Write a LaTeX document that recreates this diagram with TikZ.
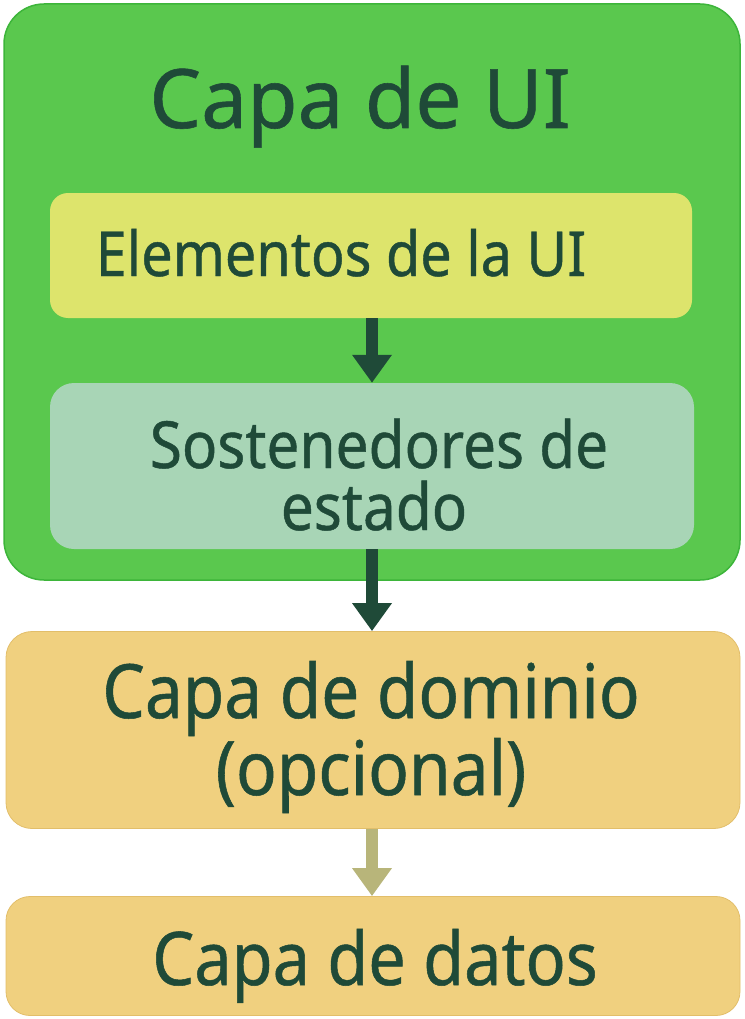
\documentclass[tikz,border=0pt]{standalone}
\usepackage{fontspec}
\setmainfont[FakeBold=0.7]{Noto Sans}
\newfontfamily\narrowsans[FakeStretch=0.9, FakeBold=0.7]{Noto Sans}
\usetikzlibrary{arrows.meta}
\definecolor{uigreen}{HTML}{5AC84E}
\definecolor{uigreenedge}{HTML}{3DB53A}
\definecolor{elemyellow}{HTML}{DDE46C}
\definecolor{stateblue}{HTML}{A8D5B6}
\definecolor{layerorange}{HTML}{F0D07F}
\definecolor{layeredge}{HTML}{E2BE6A}
\definecolor{inkgreen}{HTML}{1F4A38}
\definecolor{olivearrow}{HTML}{B8B57A}
\tikzset{
  layerbox/.style={rounded corners=#1, inner sep=0pt},
  labeltext/.style={text=inkgreen, anchor=base, inner sep=0pt},
  flowarrow/.style={draw=#1, line width=12pt, -{Triangle[width=38pt,length=28pt]}, shorten >=0pt},
}
\begin{document}
\begin{tikzpicture}[x=1pt,y=-1pt]
\useasboundingbox (0,0) rectangle (744,1019);
% boxes
\path[fill=uigreen, draw=uigreenedge, line width=1.5pt, rounded corners=40pt] (4,4) rectangle (740,580);
\node[layerbox=18pt, fill=elemyellow, minimum width=642pt, minimum height=125pt] (elem) at (371,255.5) {};
\node[layerbox=24pt, fill=stateblue, minimum width=644pt, minimum height=166pt] (state) at (372,466) {};
\node[layerbox=26pt, fill=layerorange, draw=layeredge, line width=0.8pt, minimum width=734pt, minimum height=197pt] (domain) at (373,730) {};
\node[layerbox=24pt, fill=layerorange, draw=layeredge, line width=0.8pt, minimum width=734pt, minimum height=119pt] (data) at (373,956) {};
% labels
\node[labeltext, font=\fontsize{82}{90}\selectfont] (uititle) at (360,128) {Capa de UI};
\node[labeltext, font=\narrowsans\fontsize{62}{66}\selectfont] (elemtext) at (341,276) {Elementos de la UI};
\node[labeltext, font=\narrowsans\fontsize{65}{68}\selectfont] (statetext1) at (379,468) {Sostenedores de};
\node[labeltext, font=\narrowsans\fontsize{65}{68}\selectfont] (statetext2) at (374,530) {estado};
\node[labeltext, font=\narrowsans\fontsize{75}{80}\selectfont] (domtext1) at (371,718) {Capa de dominio};
\node[labeltext, font=\narrowsans\fontsize{75}{80}\selectfont] (domtext2) at (371,795) {(opcional)};
\node[labeltext, font=\narrowsans\fontsize{74}{80}\selectfont] (datatext) at (375,985) {Capa de datos};
% arrows
\draw[flowarrow=inkgreen] (elem.south -| 372,0) -- (state.north -| 372,0);
\draw[flowarrow=inkgreen] (state.south -| 372,0) -- (domain.north -| 372,0);
\draw[flowarrow=olivearrow] (domain.south -| 372,0) -- (data.north -| 372,0);
\end{tikzpicture}
\end{document}
